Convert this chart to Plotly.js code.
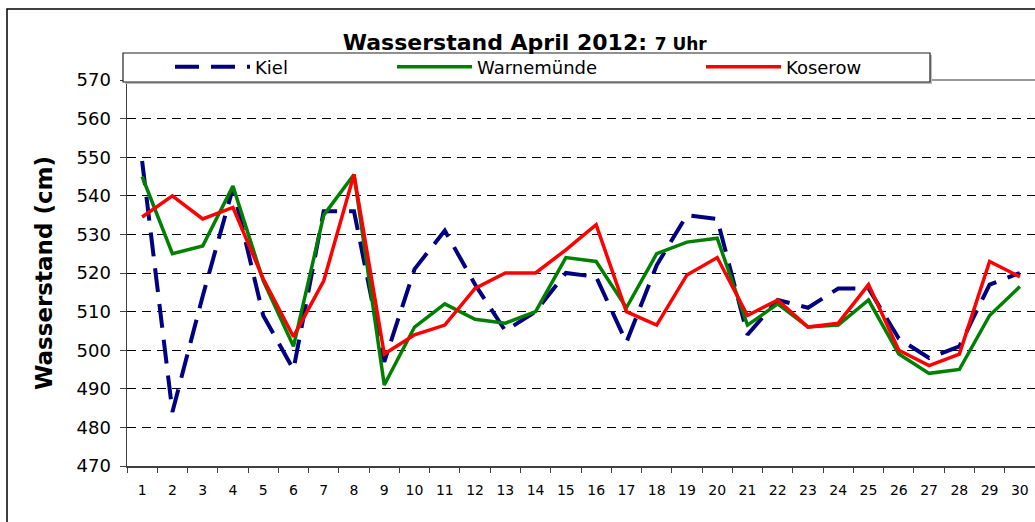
<!DOCTYPE html>
<html>
<head>
<meta charset="utf-8">
<script src="https://cdn.plot.ly/plotly-3.0.1.min.js"></script>
<style>html,body{margin:0;padding:0;background:#fff;}#chart{width:1035px;height:522px;}</style>
</head>
<body>
<div id="chart"></div>
<script>
const days = [1,2,3,4,5,6,7,8,9,10,11,12,13,14,15,16,17,18,19,20,21,22,23,24,25,26,27,28,29,30];
const dayLabels = days.map(String);
const kiel = [549,484,514,542,509,495,536,536,497,521,531,517,505,510,520,519,502,522,535,534,504,513,511,516,516,503,498,501,517,520];
const warnemuende = [545,525,527,542.5,518,501,535,545.5,491,506,512,508,507,510,524,523,511,525,528,529,506.5,512,506,506.5,513,499,494,495,509,516.5];
const koserow = [534.5,540,534,537,518.5,503.5,518,545.5,499,504,506.5,516,520,520,526,532.5,510,506.5,519.5,524,509,513,506,507,517,500,496,499,523,519];
const seriesNames = ['Kiel','Warnemünde','Koserow'];
const yTicks = [470,480,490,500,510,520,530,540,550,560,570];

const F = 'DejaVu Sans, Verdana, sans-serif';
const L = 127, T = 80, W = 908, H = 386;
const px = x => (x - L) / W;
const py = y => (T + H - y) / H;

const traces = [
  {x: days, y: kiel, name: seriesNames[0], type: 'scatter', mode: 'lines',
   line: {color: '#000080', width: 4, dash: '24px,12px'}, legend: 'legend'},
  {x: days, y: warnemuende, name: seriesNames[1], type: 'scatter', mode: 'lines',
   line: {color: '#008000', width: 3.5}, legend: 'legend2'},
  {x: days, y: koserow, name: seriesNames[2], type: 'scatter', mode: 'lines',
   line: {color: '#FF0000', width: 3.5}, legend: 'legend3'}
];

const legBase = {orientation: 'h', xanchor: 'left', yanchor: 'middle', y: py(67),
  bgcolor: 'rgba(0,0,0,0)', borderwidth: 0, itemwidth: 75,
  font: {family: F, size: 18, color: '#000'}};

const layout = {
  width: 1035, height: 522,
  margin: {l: L, r: 0, t: T, b: 522 - T - H, pad: 0},
  paper_bgcolor: '#fff', plot_bgcolor: '#fff',
  showlegend: true,
  title: {text: "<b>Wasserstand April 2012: <span style='font-size:17px'>7 Uhr</span></b>",
    font: {family: F, size: 22, color: '#000'},
    x: 0.507, xanchor: 'center', xref: 'container', y: 1 - 42/522, yanchor: 'middle', yref: 'container'},
  xaxis: {range: [0.5, 30.5], tickmode: 'array', tickvals: days, ticktext: dayLabels,
    ticks: '', showline: true, linecolor: '#404040', linewidth: 1.5, showgrid: false, zeroline: false,
    ticklabelstandoff: 11, tickfont: {family: F, size: 14, color: '#000'},
    minor: {tickmode: 'array', tickvals: days.map(d => d - 0.5).concat([30.5]), ticks: 'outside', ticklen: 5, tickcolor: '#404040', tickwidth: 1, showgrid: false}},
  yaxis: {range: [470, 570], tickmode: 'array', tickvals: yTicks, ticks: 'outside', ticklen: 6, tickcolor: '#404040', tickwidth: 1,
    showline: true, linecolor: '#404040', linewidth: 1.5, zeroline: false,
    showgrid: true, gridcolor: '#000', gridwidth: 1, griddash: '9px,6px',
    ticklabelstandoff: 5, tickfont: {family: F, size: 18, color: '#000'},
    title: {text: '<b>Wasserstand (cm)</b>', font: {family: F, size: 23, color: '#000'}, standoff: 17}},
  legend: Object.assign({}, legBase, {x: px(170)}),
  legend2: Object.assign({}, legBase, {x: px(392)}),
  legend3: Object.assign({}, legBase, {x: px(701)}),
  shapes: [
    {type: 'line', xref: 'paper', yref: 'paper', x0: px(930), x1: 1.01, y0: 1, y1: 1, line: {color: '#999', width: 2}, layer: 'above'},
    {type: 'rect', xref: 'paper', yref: 'paper', x0: px(125), x1: px(932), y0: py(84), y1: py(55), fillcolor: '#bbb', line: {width: 0}, layer: 'above'},
    {type: 'rect', xref: 'paper', yref: 'paper', x0: px(123), x1: px(930), y0: py(82), y1: py(53), fillcolor: '#fff', line: {color: '#222', width: 1.2}, layer: 'above'},
    {type: 'rect', xref: 'paper', yref: 'paper', x0: px(7), x1: px(1045), y0: py(540), y1: py(9), fillcolor: 'rgba(0,0,0,0)', line: {color: '#000', width: 1.5}, layer: 'above'}
  ]
};

Plotly.newPlot('chart', traces, layout, {displayModeBar: false, staticPlot: true});
</script>
</body>
</html>
